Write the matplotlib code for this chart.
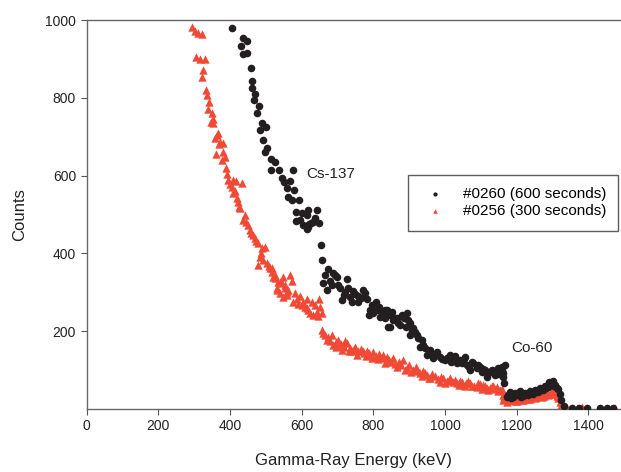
import matplotlib.pyplot as plt

plt.rcParams['font.family'] = ['Liberation Sans', 'DejaVu Sans']

# run #0260 (600 s) - energy in keV, counts
e_0260 = [406, 430, 436, 437, 447, 449, 458, 463, 463, 467, 470, 476, 482, 484,
          489, 491, 498, 501, 503, 516, 516, 526, 538, 544, 551, 558, 563, 568,
          572, 575, 579, 584, 584, 594, 596, 600, 605, 616, 616, 619, 619, 621,
          625, 631, 637, 642, 649, 654, 656, 661, 665, 670, 675, 684, 689, 698,
          707, 712, 718, 727, 735, 740, 744, 758, 758, 777, 789, 791, 807, 809,
          819, 823, 833, 833, 837, 842, 847, 847, 851, 861, 865, 870, 874, 879,
          893, 902, 902, 912, 921, 930, 935, 949, 958, 967, 977, 986, 1000, 1014,
          1023, 1033, 1042, 1056, 1061, 1070, 1079, 1088, 1098, 1112, 1116, 1125,
          1139, 1149, 1158, 1158, 1161, 1163, 1165, 1167, 1172, 1177, 1185, 1190,
          1198, 1205, 1212, 1218, 1225, 1232, 1239, 1246, 1253, 1260, 1267, 1274,
          1281, 1288, 1293, 1298, 1303, 1307, 1312, 1316, 1321, 1325, 1332, 1353,
          1375, 1397, 1432, 1451, 1470,
          680, 694, 702, 722, 730, 750, 765, 770, 782, 797, 800, 815, 828, 855,
          885, 890, 898, 908, 916, 926, 940, 945, 962, 972, 992, 1005, 1018, 1028,
          1047, 1052, 1066, 1075, 1093, 1103, 1107, 1120, 1131, 1144, 1152,
          1180, 1195, 1210, 1222, 1236, 1250, 1264, 1278, 1290, 1300]
c_0260 = [979, 934, 955, 912, 946, 914, 877, 843, 824, 794, 811, 760, 780, 717,
          734, 692, 661, 726, 672, 643, 614, 636, 614, 595, 584, 567, 546, 586,
          537, 614, 563, 507, 483, 537, 486, 503, 473, 499, 464, 512, 469, 476,
          477, 482, 490, 512, 479, 422, 383, 323, 344, 306, 359, 319, 350, 339,
          310, 280, 293, 333, 287, 276, 304, 290, 276, 299, 242, 254, 276, 254,
          237, 250, 233, 254, 254, 212, 242, 212, 250, 233, 233, 220, 216, 242,
          246, 220, 190, 207, 190, 160, 177, 139, 152, 130, 147, 134, 126, 139,
          130, 117, 126, 133, 113, 100, 117, 105, 109, 100, 83, 96,
          87, 105, 100, 109, 83, 92, 68, 113, 32, 36, 28, 32,
          35, 40, 30, 33, 38, 36, 42, 39, 45, 44, 50, 49,
          54, 56, 62, 66, 58, 62, 55, 51, 39, 23, 8, 2,
          2, 2, 3, 2, 2,
          330, 345, 320, 300, 312, 295, 285, 305, 282, 268, 248, 262, 245, 228,
          235, 210, 228, 200, 198, 182, 165, 158, 142, 140, 128, 132, 122, 137,
          118, 128, 108, 122, 112, 95, 104, 92, 100, 94, 90,
          44, 42, 45, 40, 47, 50, 55, 60, 70, 72]

# run #0256 (300 s)
e_0256 = [293, 303, 305, 311, 317, 321, 321, 324, 331, 333, 335, 343, 346, 349,
          354, 358, 361, 363, 372, 377, 380, 380, 386, 389, 396, 405, 409, 409,
          417, 419, 423, 428, 433, 437, 442, 451, 456, 464, 470, 479, 479, 484,
          489, 493, 498, 503, 512, 517, 517, 526, 526, 531, 531, 535, 540, 540,
          544, 549, 549, 554, 554, 558, 563, 568, 572, 577, 582, 596, 600, 614,
          614, 623, 628, 633, 637, 642, 649, 656, 656, 665, 670, 675, 684, 689,
          695, 702, 710, 718, 726, 735, 742, 750, 758, 766, 775, 783, 792, 800,
          808, 816, 823, 833, 837, 845, 856, 865, 872, 884, 893, 900, 912, 920,
          930, 940, 950, 958, 965, 972, 980, 986, 995, 1005, 1014, 1022, 1033,
          1042, 1051, 1060, 1070, 1080, 1088, 1098, 1107, 1116, 1125, 1135, 1144,
          1153, 1158, 1163, 1165, 1163, 1172, 1180, 1190, 1200, 1209, 1218, 1228,
          1237, 1246, 1255, 1265, 1275, 1284, 1292, 1298, 1303, 1307, 1312, 1316,
          1321, 1325, 1333, 1340, 1353, 1367, 1381, 1474,
          340, 352, 366, 370, 392, 400, 413, 426, 446, 460, 474, 486, 508, 521,
          560, 586, 590, 605, 610, 619, 645, 652, 660, 678, 697, 706, 714, 722,
          731, 746, 754, 770, 779, 788, 796, 812, 828, 850, 860, 878, 888, 906,
          925, 935, 945, 955, 990, 1000, 1010, 1028, 1038, 1047, 1056, 1065, 1075,
          1093, 1102, 1112, 1120, 1130, 1140, 1148, 1185, 1195, 1205, 1214, 1223,
          1232, 1242, 1250, 1260, 1270, 1280, 1288, 1295]
c_0256 = [983, 972, 906, 966, 901, 963, 854, 872, 901, 820, 807, 790, 739, 760,
          734, 696, 655, 704, 687, 640, 683, 661, 649, 619, 589, 571, 589, 554,
          587, 543, 533, 516, 580, 486, 499, 473, 460, 447, 439, 426, 370, 392,
          413, 383, 417, 375, 362, 353, 362, 336, 344, 310, 306, 327, 297, 327,
          323, 340, 289, 310, 319, 293, 306, 344, 330, 276, 297, 290, 267, 284,
          259, 246, 276, 242, 267, 250, 282, 248, 203, 190, 177, 185, 190, 165,
          172, 177, 168, 160, 170, 158, 150, 160, 148, 155, 143, 150, 140, 146,
          136, 142, 130, 117, 133, 125, 130, 109, 120, 126, 105, 112, 100, 108,
          92, 98, 88, 79, 90, 85, 77, 70, 80, 72, 79, 70, 66,
          72, 62, 68, 66, 60, 57, 64, 62, 55, 53, 58, 56,
          49, 51, 36, 32, 23, 19, 22, 23, 21, 25, 24, 28,
          26, 32, 30, 36, 34, 40, 38, 44, 48, 39, 33, 27,
          18, 10, 4, 2, 3, 2, 4, 2,
          770, 745, 710, 680, 605, 578, 560, 520, 480, 452, 432, 400, 368, 340,
          300, 282, 270, 275, 262, 255, 240, 262, 195, 175, 160, 162, 152, 176,
          150, 155, 140, 150, 136, 145, 130, 128, 138, 120, 115, 112, 100, 95,
          98, 85, 92, 80, 83, 68, 74, 75, 62, 70, 58, 72, 58,
          66, 52, 60, 50, 60, 52, 45, 25, 20, 27, 22, 30,
          25, 33, 28, 38, 30, 42, 36, 46]

x_ticks = [0, 200, 400, 600, 800, 1000, 1200, 1400]
y_ticks = [200, 400, 600, 800, 1000]

fig = plt.figure(figsize=(6.21, 4.72), dpi=100)
ax = fig.add_axes([86.5 / 621, 63 / 472, (621 - 86.5) / 621, 389 / 472])

ax.scatter(e_0260, c_0260, s=30, marker='o', color='#231f20', linewidths=0,
           label='#0260 (600 seconds)', zorder=3)
ax.scatter(e_0256, c_0256, s=36, marker='^', color='#f04a36', linewidths=0,
           label='#0256 (300 seconds)', zorder=2)

ax.set_xlim(0, 1491)
ax.set_ylim(0, 1000)
ax.set_xticks(x_ticks)
ax.set_yticks(y_ticks)
ax.tick_params(labelsize=10, length=4, width=0.8, color='#555555',
               labelcolor='#222222')
for side in ['left', 'bottom', 'top']:
    ax.spines[side].set_color('#666666')
    ax.spines[side].set_linewidth(1.0)
ax.spines['right'].set_visible(False)

ax.set_xlabel('Gamma-Ray Energy (keV)', fontsize=12, color='#222222', labelpad=14)
ax.set_ylabel('Counts', fontsize=12, color='#222222', labelpad=13)

ax.text(614, 604, 'Cs-137', fontsize=11, va='center', color='#222222')
ax.text(1186, 158, 'Co-60', fontsize=11, va='center', color='#222222')

leg = ax.legend(loc='upper left', bbox_to_anchor=(0.601, 0.6015), fontsize=11,
                frameon=True, fancybox=False, borderpad=0.8, handletextpad=0.8,
                markerscale=0.55, labelspacing=0.2, handlelength=2.0,
                borderaxespad=0)
leg.get_frame().set_edgecolor('#333333')
leg.get_frame().set_linewidth(1.0)

fig.savefig('out.png', dpi=100)
